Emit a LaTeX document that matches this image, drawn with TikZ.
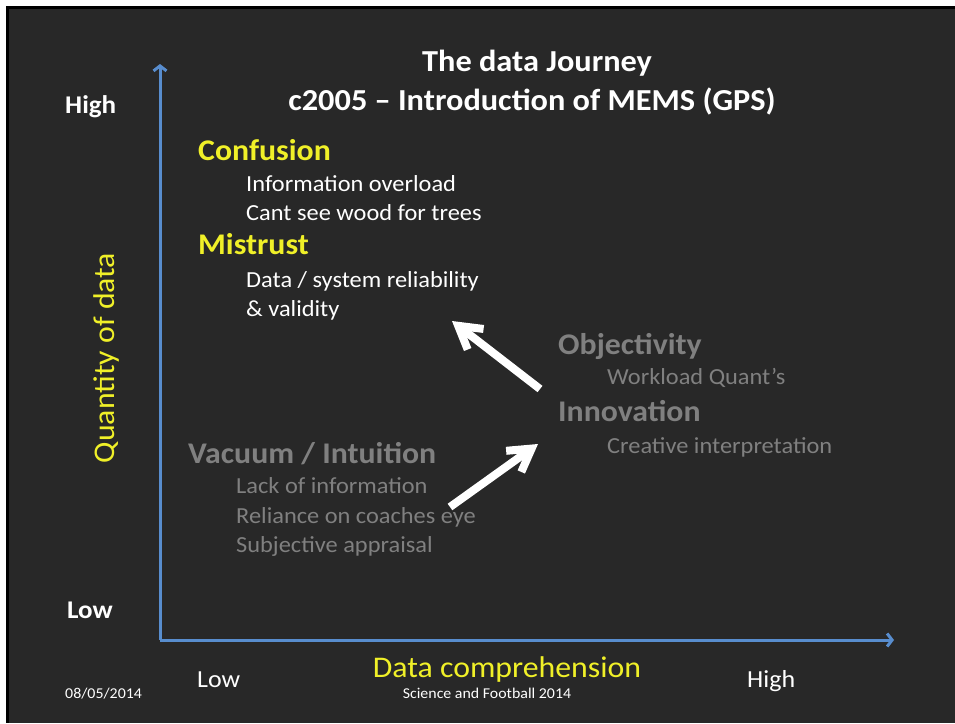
\documentclass[tikz,border=0pt]{standalone}
\usepackage{fontspec}
\setmainfont{Carlito}[FakeStretch=1.06]
\usetikzlibrary{arrows.meta}
\definecolor{slide}{RGB}{40,40,40}
\definecolor{axisblue}{RGB}{88,141,206}
\definecolor{headyellow}{RGB}{240,240,40}
\definecolor{fadegray}{RGB}{128,128,128}
\tikzstyle{bighead} = [anchor=base west, inner sep=0pt, font=\bfseries\fontsize{30}{32}\selectfont]
\tikzstyle{itemtext} = [anchor=base west, inner sep=0pt, font=\fontsize{23}{25}\selectfont]
\tikzstyle{scale label} = [anchor=base west, inner sep=0pt, white]
\tikzstyle{axisline} = [line width=3pt, draw=axisblue, -{Straight Barb[length=5pt,width=13pt]}]
\tikzstyle{jump} = [line width=8pt, draw=white, -{Straight Barb[length=22pt,width=26pt]}]

\begin{document}
\begin{tikzpicture}[x=1pt, y=-1pt]
\useasboundingbox (0,0) rectangle (955,723);
\fill[white] (0,0) rectangle (955,723);
\fill[black] (6,6) rectangle (955,723);
\fill[slide] (9,9) rectangle (955,723);

% title
\node (title1) [anchor=base, white, inner sep=0pt, font=\bfseries\fontsize{30.5}{32}\selectfont] at (537,71) {The data Journey};
\node (title2) [anchor=base, white, inner sep=0pt, font=\bfseries\fontsize{30.5}{32}\selectfont] at (532,110) {c2005 – Introduction of MEMS (GPS)};

% axes
\coordinate (origin) at (160,640);
\coordinate (ytop) at (160,64);
\coordinate (xend) at (894,640);
\draw [axisline] (origin) -- (ytop);
\draw [axisline] (origin) -- (xend);

% axis labels
\node (yhigh) [scale label, font=\bfseries\fontsize{25.5}{27}\selectfont] at (65,113) {High};
\node (ylow) [scale label, font=\bfseries\fontsize{25.5}{27}\selectfont] at (67,618) {Low};
\node (ytext) [headyellow, rotate=90, inner sep=0pt, font=\fontsize{30}{32}\selectfont] at (106,358) {Quantity of data};
\node (xtext) [headyellow, anchor=base, inner sep=0pt, font=\fontsize{30}{32}\selectfont] at (507,677) {Data comprehension};
\node (xlow) [scale label, font=\fontsize{24.5}{26}\selectfont] at (197,687) {Low};
\node (xhigh) [scale label, font=\fontsize{24.5}{26}\selectfont] at (747,687) {High};
\node (date) [scale label, font=\fontsize{15}{17}\selectfont] at (65,698) {08/05/2014};
\node (footer) [white, anchor=base, inner sep=0pt, font=\fontsize{15}{17}\selectfont] at (487,698) {Science and Football 2014};

% upper left
\node (confusion) [bighead, headyellow] at (198,160) {Confusion};
\node (overload) [itemtext, white] at (246,191) {Information overload};
\node (trees) [itemtext, white] at (246,220) {Cant see wood for trees};
\node (mistrust) [bighead, headyellow] at (198,254) {Mistrust};
\node (reliability) [itemtext, white] at (246,287) {Data / system reliability};
\node (validity) [itemtext, white] at (246,316) {\& validity};

% right
\node (objectivity) [bighead, fadegray] at (558,354) {Objectivity};
\node (workload) [itemtext, fadegray] at (607,384) {Workload Quant’s};
\node (innovation) [bighead, fadegray] at (558,421) {Innovation};
\node (creative) [itemtext, fadegray] at (607,453) {Creative interpretation};

% lower left
\node (vacuum) [bighead, fadegray] at (188,463) {Vacuum / Intuition};
\node (lack) [itemtext, fadegray] at (236,493) {Lack of information};
\node (coaches) [itemtext, fadegray] at (236,523) {Reliance on coaches eye};
\node (subjective) [itemtext, fadegray] at (236,552) {Subjective appraisal};

% white arrows
\coordinate (rise1) at (450,507);
\coordinate (peak1) at (538,444);
\coordinate (rise2) at (540,389);
\coordinate (peak2) at (452,321);
\draw [jump] (rise1) -- (peak1);
\draw [jump] (rise2) -- (peak2);
\end{tikzpicture}
\end{document}
